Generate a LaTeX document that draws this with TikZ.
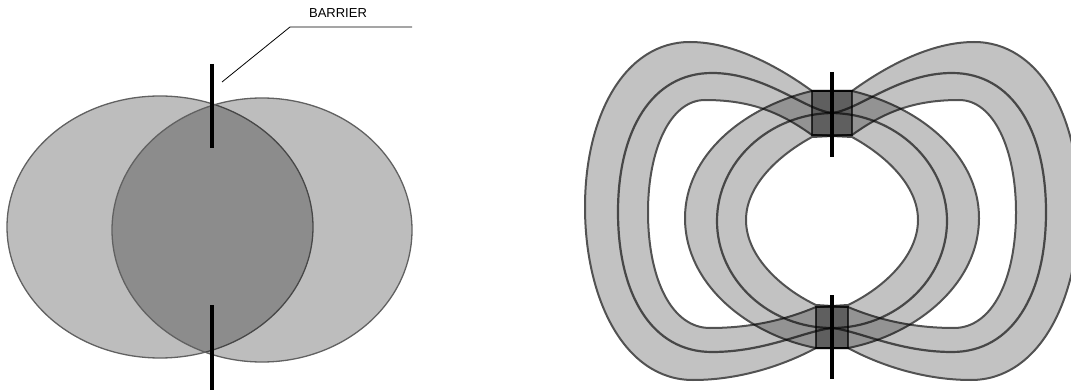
\documentclass[tikz,border=0pt]{standalone}
\usepackage{fontspec}
\setsansfont{Liberation Sans}
\usetikzlibrary{positioning}

\begin{document}
\begin{tikzpicture}[x=1pt, y=-1pt,
  blob/.style={draw=black!62, line width=1.3pt, fill=black, fill opacity=0.26},
  barrier/.style={line width=4.5pt, black},
  bandedge/.style={draw=black!68, line width=2pt, fill=black!24, even odd rule},
  bandline/.style={draw=black!72, line width=2.2pt},
  gate/.style={draw=black!70, line width=1.2pt, fill=black!35, inner sep=0pt},
  lbl/.style={font=\sffamily\fontsize{13}{15}\selectfont}]

\useasboundingbox (0,0) rectangle (1071,390);

% Overlapping fields
\draw[blob] (160,227) ellipse [x radius=153, y radius=131];
\draw[blob] (262,230) ellipse [x radius=150, y radius=132];

\coordinate (lt1) at (212,64);
\coordinate (lt2) at (212,148);
\coordinate (lb1) at (212,305);
\coordinate (lb2) at (212,390);
\draw[barrier] (lt1) -- (lt2);
\draw[barrier] (lb1) -- (lb2);

\node[lbl] (barlbl) at (338,13) {BARRIER};
\coordinate (tip) at (222,82);
\coordinate (knee) at (290,27);
\coordinate (tail) at (412,27);
\draw[line width=0.8pt] (tip) -- (knee) -- (tail);

% Looped fields
\begin{scope}[blend mode=multiply]
\begin{scope}[transparency group]
\path[bandedge] (812,91) .. controls (790,75) and (740,42) .. (690,42)
  .. controls (625,42) and (585,115) .. (585,207)
  .. controls (585,300) and (625,380) .. (693,380)
  .. controls (745,380) and (790,362) .. (816,348) -- (848,348)
  .. controls (915,335) and (979,285) .. (979,218)
  .. controls (979,155) and (920,107) .. (852,91) -- cycle
  (812,135) .. controls (780,112) and (750,100) .. (705,100)
  .. controls (670,100) and (648,150) .. (648,212)
  .. controls (648,280) and (672,328) .. (710,328)
  .. controls (755,328) and (790,318) .. (816,307) -- (848,305)
  .. controls (880,290) and (918,258) .. (918,220)
  .. controls (918,185) and (885,155) .. (852,137) -- cycle;
\draw[bandline] (832,113) .. controls (805,110) and (765,73) .. (712,73)
  .. controls (652,73) and (618,130) .. (618,212)
  .. controls (618,295) and (652,352) .. (712,352)
  .. controls (765,352) and (805,331) .. (832,328)
  .. controls (895,328) and (947,280) .. (947,221)
  .. controls (947,162) and (895,114) .. cycle;
\end{scope}
\begin{scope}[transparency group, xshift=1664pt, xscale=-1]
\path[bandedge] (812,91) .. controls (790,75) and (740,42) .. (690,42)
  .. controls (625,42) and (585,115) .. (585,207)
  .. controls (585,300) and (625,380) .. (693,380)
  .. controls (745,380) and (790,362) .. (816,348) -- (848,348)
  .. controls (915,335) and (979,285) .. (979,218)
  .. controls (979,155) and (920,107) .. (852,91) -- cycle
  (812,135) .. controls (780,112) and (750,100) .. (705,100)
  .. controls (670,100) and (648,150) .. (648,212)
  .. controls (648,280) and (672,328) .. (710,328)
  .. controls (755,328) and (790,318) .. (816,307) -- (848,305)
  .. controls (880,290) and (918,258) .. (918,220)
  .. controls (918,185) and (885,155) .. (852,137) -- cycle;
\draw[bandline] (832,113) .. controls (805,110) and (765,73) .. (712,73)
  .. controls (652,73) and (618,130) .. (618,212)
  .. controls (618,295) and (652,352) .. (712,352)
  .. controls (765,352) and (805,331) .. (832,328)
  .. controls (895,328) and (947,280) .. (947,221)
  .. controls (947,162) and (895,114) .. cycle;
\end{scope}
\node[gate, minimum width=40pt, minimum height=44pt] (gtop) at (832,113) {};
\node[gate, minimum width=32pt, minimum height=41pt] (gbot) at (832,327.5) {};
\end{scope}

\coordinate (rt1) at (832,72);
\coordinate (rt2) at (832,157);
\coordinate (rb1) at (832,295);
\coordinate (rb2) at (832,379);
\draw[barrier] (rt1) -- (rt2);
\draw[barrier] (rb1) -- (rb2);

\end{tikzpicture}
\end{document}
